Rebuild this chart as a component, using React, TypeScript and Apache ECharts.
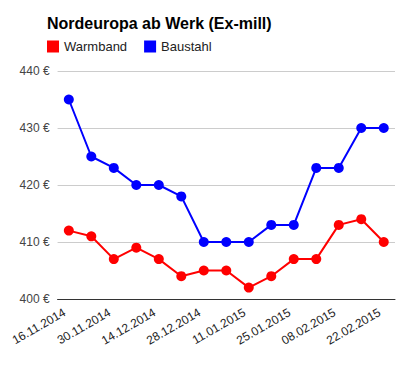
import React, { useEffect, useRef } from "react";
import * as echarts from "echarts";

const categories = [
  "16.11.2014", "23.11.2014", "30.11.2014", "07.12.2014", "14.12.2014",
  "21.12.2014", "28.12.2014", "04.01.2015", "11.01.2015", "18.01.2015",
  "25.01.2015", "01.02.2015", "08.02.2015", "15.02.2015", "22.02.2015",
];
const warmband = [412, 411, 407, 409, 407, 404, 405, 405, 402, 404, 407, 407, 413, 414, 410];
const baustahl = [435, 425, 423, 420, 420, 418, 410, 410, 410, 413, 413, 423, 423, 430, 430];
const yTicks = [400, 410, 420, 430, 440];

export default function App() {
  const ref = useRef<HTMLDivElement>(null);
  useEffect(() => {
    if (!ref.current) return;
    const chart = echarts.init(ref.current, undefined, { renderer: "svg" });
    const font = "'Liberation Sans', Arial, sans-serif";
    chart.setOption({
      animation: false,
      textStyle: { fontFamily: font },
      title: {
        text: "Nordeuropa ab Werk (Ex-mill)",
        left: 39,
        top: 7,
        padding: 0,
        textStyle: { fontSize: 16, fontWeight: "bold", color: "#000", fontFamily: font },
      },
      legend: {
        left: 39,
        top: 32,
        padding: 0,
        icon: "rect",
        itemWidth: 12,
        itemHeight: 12,
        itemGap: 17,
        textStyle: { fontSize: 13, color: "#222", fontFamily: font },
        data: ["Warmband", "Baustahl"],
      },
      grid: { left: 39, right: 5, top: 63, bottom: 64, containLabel: false },
      xAxis: {
        type: "category",
        data: categories,
        boundaryGap: true,
        axisLine: { lineStyle: { color: "#333", width: 1 } },
        axisTick: { show: false },
        axisLabel: {
          interval: 1,
          rotate: 30,
          fontSize: 12,
          color: "#222",
          margin: 10,
          padding: [0, 5, 0, 0],
          fontFamily: font,
        },
      },
      yAxis: {
        type: "value",
        min: yTicks[0],
        max: yTicks[yTicks.length - 1],
        interval: 10,
        axisLine: { show: false },
        axisTick: { show: false },
        splitLine: { lineStyle: { color: "#cccccc" } },
        axisLabel: {
          formatter: "{value} €",
          fontSize: 12,
          color: "#444",
          margin: 8,
          fontFamily: font,
        },
      },
      series: [
        {
          name: "Warmband",
          type: "line",
          data: warmband,
          color: "#ff0000",
          symbol: "circle",
          symbolSize: 10,
          lineStyle: { width: 2 },
        },
        {
          name: "Baustahl",
          type: "line",
          data: baustahl,
          color: "#0000ff",
          symbol: "circle",
          symbolSize: 10,
          lineStyle: { width: 2 },
        },
      ],
    });
    return () => chart.dispose();
  }, []);
  return <div ref={ref} style={{ width: 392, height: 355 }} />;
}
